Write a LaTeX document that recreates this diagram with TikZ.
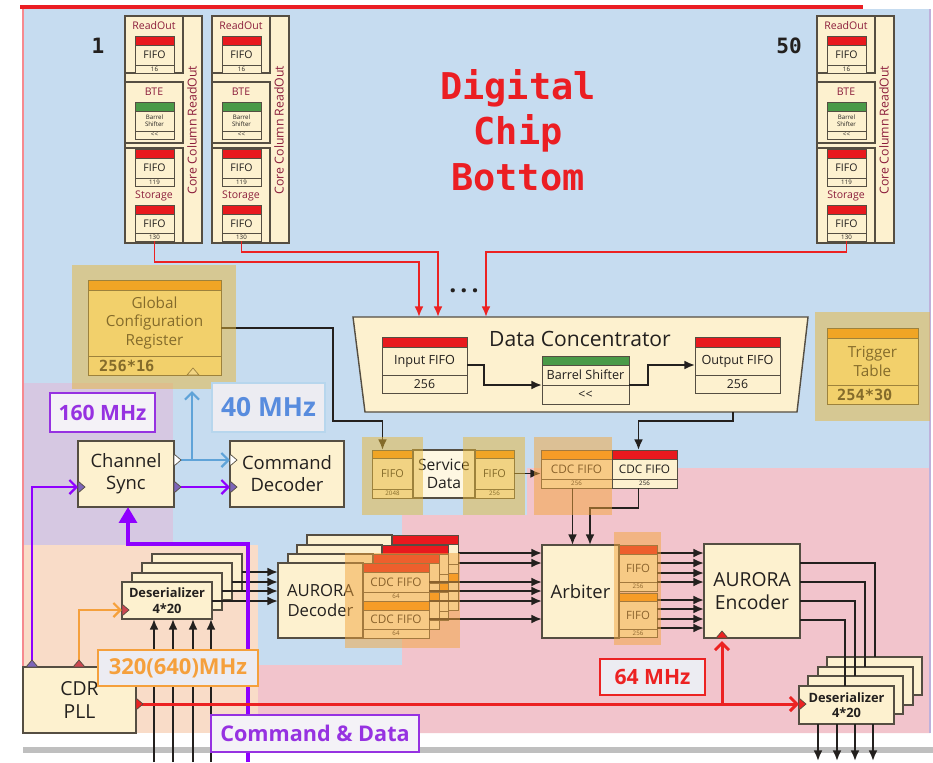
\documentclass[tikz,border=0pt]{standalone}
\usepackage{fontspec}
\setmainfont{Open Sans}
\newfontfamily\codefont{DejaVu Sans Mono}
\usetikzlibrary{arrows.meta, positioning, calc}

\definecolor{BgBlue}{RGB}{198,220,240}
\definecolor{BgPink}{RGB}{242,196,204}
\definecolor{BgPurple}{RGB}{214,200,226}
\definecolor{BgPeach}{RGB}{249,220,200}
\definecolor{Cream}{RGB}{253,241,207}
\definecolor{GcrFill}{RGB}{255,236,160}
\definecolor{Edge}{RGB}{85,78,66}
\definecolor{Ink}{RGB}{35,32,30}
\definecolor{BarRed}{RGB}{232,25,30}
\definecolor{BarGreen}{RGB}{74,154,72}
\definecolor{BarOrange}{RGB}{252,148,18}
\definecolor{Maroon}{RGB}{140,30,60}
\definecolor{ClkPurple}{RGB}{143,0,255}
\definecolor{TagPurple}{RGB}{150,50,225}
\definecolor{TriPurple}{RGB}{125,100,185}
\definecolor{ClkBlue}{RGB}{95,163,216}
\definecolor{TagBlue}{RGB}{88,140,222}
\definecolor{ClkOrange}{RGB}{245,160,60}
\definecolor{ClkRed}{RGB}{236,34,34}
\definecolor{TriRed}{RGB}{205,70,80}
\definecolor{HiYellow}{RGB}{230,182,56}
\definecolor{HiOrange}{RGB}{242,165,60}
\definecolor{TagFill}{RGB}{236,236,242}
\definecolor{TitleRed}{RGB}{235,30,35}

\newcommand{\barh}{9}
\newcommand{\subh}{8}
% colour bar + cell + size cell
\newcommand{\fifo}[9]{%
  \node[cell,fill=#5,wd=#4,ht=\barh,anchor=north west] (#1-bar) at (#2,#3) {};
  \node[cell,fill=#6,wd=#4,ht=#7,anchor=north,fifotxt] (#1-main) at (#1-bar.south) {#8};
  \node[cell,fill=#6,wd=#4,ht=\subh,anchor=north,fifosub] (#1-sub) at (#1-main.south) {#9};}
% clock marks
\newcommand{\clkR}[3]{\filldraw[fill=#3,draw=Edge,line width=0.4pt] (#1,#2) ++(0,-6) -- ++(7,6) -- ++(-7,6) -- cycle;}
\newcommand{\clkU}[3]{\filldraw[fill=#3,draw=Edge,line width=0.4pt] (#1,#2) ++(-6,0) -- ++(6,-7) -- ++(6,7) -- cycle;}

\begin{document}
\begin{tikzpicture}[x=0.02cm, y=-0.02cm,
    wd/.style={minimum width=#1*0.02cm},
    ht/.style={minimum height=#1*0.02cm},
    cell/.style={draw=Edge, line width=0.5pt, inner sep=0pt, outer sep=0pt,
                 align=center, text=Ink},
    blk/.style={cell, fill=Cream, line width=0.7pt, anchor=north west},
    fifotxt/.style={font=\fontsize{6}{6.5}\selectfont},
    fifosub/.style={font=\fontsize{3.5}{4}\selectfont},
    lbl/.style={font=\fontsize{6}{7}\selectfont, text=Maroon},
    big/.style={font=\fontsize{10.5}{12.5}\selectfont},
    des/.style={font=\bfseries\fontsize{7.3}{8.8}\selectfont},
    code/.style={font=\codefont\bfseries\fontsize{8.7}{10}\selectfont, text=Ink},
    arr/.style={-{Latex[length=6pt,width=5pt]}, line width=1.1pt, draw=Ink},
    wire/.style={line width=1.1pt, draw=Ink},
    redarr/.style={-{Latex[length=6pt,width=5pt]}, line width=1.1pt, draw=ClkRed},
    clkarr/.style={-{Straight Barb[length=4pt,width=8pt]}, line width=1.3pt, draw=#1},
    purbig/.style={-{Triangle[length=9pt,width=10pt]}, line width=2.3pt, draw=ClkPurple},
    tag/.style={draw=#1, text=#1, line width=0.8pt, fill=TagFill, inner sep=0pt},
    hilite/.style={fill=#1, fill opacity=0.5}
  ]
  \useasboundingbox (0,0) rectangle (933,762);
  % background areas
  \fill[white] (0,0) rectangle (933,762);
  \fill[BgBlue] (23,9) rectangle (930,733);
  \fill[BgPurple] (23,383) rectangle (173,545);
  \fill[BgPeach] (23,545) rectangle (258,733);
  \fill[BgPink] (527,468) -- (930,468) -- (930,733) -- (258,733) -- (258,665)
    -- (402,665) -- (402,515) -- (527,515) -- cycle;
  \draw[BgPink!70!red, line width=0.6pt] (23,9) -- (23,733);
  \draw[TriPurple!50, line width=0.6pt] (930,9) -- (930,733);
  \fill[black!25] (23,747) rectangle (933,753);
  \draw[TitleRed, line width=2pt] (20,7) -- (863,7);

  \node[font=\codefont\bfseries\fontsize{21}{26}\selectfont, text=TitleRed,
        align=center] (title) at (518,130) {Digital\\Chip\\Bottom};
  \node[font=\codefont\bfseries\fontsize{12}{14}\selectfont, text=Ink] (num1) at (98,46) {1};
  \node[font=\codefont\bfseries\fontsize{12}{14}\selectfont, text=Ink] (num50) at (789,46) {50};

  % core column readout
  \foreach \cx/\cn in {125/a,212/b,817/c}{
    \node[blk,wd=77,ht=227] (\cn-col) at (\cx,16) {};
    \node[blk,wd=58,ht=57] (\cn-ro) at (\cx,16) {};
    \node[blk,wd=58,ht=61] (\cn-bt) at (\cx,82) {};
    \node[blk,wd=58,ht=95] (\cn-sg) at (\cx,148) {};
    \node[lbl] (\cn-rol) at (\cx+29,26) {ReadOut};
    \node[lbl] (\cn-btl) at (\cx+29,92) {BTE};
    \node[lbl] (\cn-sgl) at (\cx+29,196) {Storage};
    \node[lbl,rotate=90,font=\fontsize{7}{8}\selectfont] (\cn-cap) at (\cx+67,130) {Core Column ReadOut};
    \fifo{\cn-f1}{\cx+10}{36}{39}{BarRed}{Cream}{20}{FIFO}{16}
    \begin{scope}[fifotxt/.style={font=\fontsize{3.5}{4}\selectfont}]
      \fifo{\cn-f2}{\cx+10}{102}{39}{BarGreen}{Cream}{20}{Barrel\\Shifter}{<{}<}
    \end{scope}
    \fifo{\cn-f3}{\cx+10}{149}{39}{BarRed}{Cream}{20}{FIFO}{119}
    \fifo{\cn-f4}{\cx+10}{205}{39}{BarRed}{Cream}{19}{FIFO}{130}
  }

  % data concentrator
  \draw[fill=Cream, draw=Edge, line width=0.8pt]
    (353,317) -- (808,317) -- (797,412) -- (365,412) -- cycle;
  \node[font=\fontsize{12}{14}\selectfont, text=Ink] (dc) at (580,339) {Data Concentrator};
  \begin{scope}[fifotxt/.style={font=\fontsize{7.2}{8}\selectfont},
                fifosub/.style={font=\fontsize{7}{8}\selectfont}]
    \renewcommand{\barh}{10}\renewcommand{\subh}{18}
    \fifo{inf}{382}{337}{85}{BarRed}{Cream}{28}{Input FIFO}{256}
    \fifo{outf}{695}{337}{85}{BarRed}{Cream}{28}{Output FIFO}{256}
    \renewcommand{\barh}{9}\renewcommand{\subh}{19}
    \fifo{bs}{542}{356}{87}{BarGreen}{Cream}{20}{Barrel Shifter}{<{}<}
  \end{scope}

  % configuration and trigger tables
  \begin{scope}[fifotxt/.style={font=\fontsize{8.7}{10.5}\selectfont}]
    \renewcommand{\barh}{10}\renewcommand{\subh}{19}
    \fifo{gcr}{88}{280}{133}{BarOrange}{GcrFill}{66}{Global\\Configuration\\Register}{}
    \fifo{trg}{827}{328}{91}{BarOrange}{GcrFill}{47}{Trigger\\Table}{}
  \end{scope}
  \node[code, anchor=west] (gcr-size) at ($(gcr-sub.west)+(5,0)$) {256*16};
  \node[code, anchor=west] (trg-size) at ($(trg-sub.west)+(4,0)$) {254*30};

  % service data and CDC FIFOs
  \begin{scope}[fifotxt/.style={font=\fontsize{6.2}{7}\selectfont}]
    \renewcommand{\barh}{8}\renewcommand{\subh}{9}
    \fifo{sdl}{372}{450}{41}{BarOrange}{Cream}{31}{FIFO}{2048}
    \fifo{sdr}{475}{450}{39}{BarOrange}{Cream}{31}{FIFO}{256}
  \end{scope}
  \node[blk,wd=62,ht=48,font=\fontsize{8.9}{10.5}\selectfont,fill=Cream!60!white] (sd) at (413,450) {Service\\Data};
  \begin{scope}[fifotxt/.style={font=\fontsize{6.7}{7.5}\selectfont}]
    \renewcommand{\barh}{9}\renewcommand{\subh}{9}
    \fifo{cdcl}{541}{450}{71}{BarOrange}{Cream}{20}{CDC FIFO}{256}
    \fifo{cdcr}{612}{450}{65}{BarRed}{Cream}{20}{CDC FIFO}{256}
  \end{scope}

  % arbiter and encoder
  \node[blk,wd=77,ht=93,big] (arb) at (542,545) {Arbiter};
  \begin{scope}[fifotxt/.style={font=\fontsize{6.5}{7.5}\selectfont}]
    \renewcommand{\barh}{9}\renewcommand{\subh}{9}
    \fifo{af1}{619}{545}{38}{BarRed}{Cream}{28}{FIFO}{256}
    \renewcommand{\barh}{8}\renewcommand{\subh}{8}
    \fifo{af2}{619}{593}{38}{BarOrange}{Cream}{28}{FIFO}{256}
  \end{scope}
  \node[blk,wd=96,ht=94,font=\fontsize{11}{13}\selectfont] (enc) at (704,544) {AURORA\\Encoder};
  \foreach \i/\dx/\dy in {0/827/657,1/818/667,2/808/676}
    \node[blk,wd=95,ht=38] (odes\i) at (\dx,\dy) {};
  \node[blk,wd=95,ht=38,des] (odes3) at (799,686) {Deserializer\\4*20};

  % input side
  \node[blk,wd=113,ht=66,font=\fontsize{11}{13}\selectfont] (cdr) at (23,667) {CDR\\PLL};
  \foreach \i/\dx/\dy in {0/152/554,1/142/563,2/132/573}
    \node[blk,wd=90,ht=37] (ides\i) at (\dx,\dy) {};
  \node[blk,wd=90,ht=37,des] (ides3) at (122,582) {Deserializer\\4*20};
  \begin{scope}[fifotxt/.style={font=\fontsize{6.7}{7.5}\selectfont}]
    \renewcommand{\barh}{9}\renewcommand{\subh}{9}
    \foreach \i/\dx/\dy in {0/307/535,1/297/545,2/288/554}{
      \node[blk,wd=85,ht=75] (dec\i) at (\dx,\dy) {};
      \fifo{dqa\i}{\dx+85}{\dy}{66}{BarRed}{Cream}{20}{}{}
      \fifo{dqb\i}{\dx+85}{\dy+38}{66}{BarOrange}{Cream}{19}{}{}
    }
    \node[blk,wd=85,ht=75,font=\fontsize{9.5}{11.5}\selectfont] (dec3) at (278,563) {AURORA\\Decoder};
    \fifo{dqa3}{363}{563}{66}{BarRed}{Cream}{20}{CDC FIFO}{64}
    \fifo{dqb3}{363}{601}{66}{BarOrange}{Cream}{19}{CDC FIFO}{64}
  \end{scope}
  \node[blk,wd=96,ht=66,big] (cs) at (78,441) {Channel\\Sync};
  \node[blk,wd=114,ht=66,big] (cmd) at (230,441) {Command\\Decoder};

  % data paths
  \coordinate (dcin1) at (419,317);
  \coordinate (dcin2) at (438,317);
  \coordinate (dcin3) at (486,317);
  \draw[redarr] (a-f4-sub.south) -- ++(0,21) -| (dcin1);
  \draw[redarr] (b-f4-sub.south) -- ++(0,11) -| (dcin2);
  \draw[redarr] (c-f4-sub.south) -- ++(0,11) -| (dcin3);
  \node[font=\bfseries\fontsize{14}{14}\selectfont, text=Ink] (dots) at (464,291) {.\,.\,.};
  \draw[arr] ($(inf-main.east)+(0,4)$) -- ++(17,0) |- (bs-main.south west);
  \draw[arr] (bs-main.south east) -- ++(19,0) |- ($(outf-main.west)+(0,4)$);
  \coordinate (dcout) at (733,412);
  \draw[arr] (dcout) -- ++(0,9) -| ($(cdcr-bar.north)+(-6,0)$);
  \draw[arr] ($(gcr-main.east)+(0,5)$) -| (333,421) -| ($(sdl-bar.north)+(-10,0)$);
  \draw[arr] (sdr-main.east) -- (sdr-main.east -| cdcl-main.west);
  \coordinate (arbin1) at (572.5,545);
  \coordinate (arbin2) at (590,545);
  \draw[arr] ($(cdcl-sub.south)+(-4,0)$) -- (arbin1);
  \draw[arr] ($(cdcr-sub.south)+(-6,0)$) |- (590,508) -- (arbin2);
  \foreach \y in {553,563,573,582,600,609,619,628}
    \draw[arr] (af1-main.east |- 0,\y) -- (enc.west |- 0,\y);
  \foreach \y/\x/\i in {563/875/0,582/865/1,601/855/2,620/845/3}
    \draw[wire] (enc.east |- 0,\y) -| (\x,0 |- odes\i.north);
  \foreach \x in {818,837,855,873}{
    \coordinate (dout\x) at (\x,761);
    \draw[arr] (\x,0 |- odes3.south) -- (dout\x);
  }
  \foreach \x in {154,173,193,211}{
    \coordinate (din\x) at (\x,762);
    \draw[arr] (din\x) -- (\x,0 |- ides3.south);
  }
  \foreach \y/\i in {572/0,582/1,591/2,601/3}
    \draw[arr] (ides\i.east |- 0,\y) -- (dec3.west |- 0,\y);
  \foreach \y/\n in {553/dqa0,563/dqa0,582/dqa3,591/dqa3,601/dqa3,619/dqb3}
    \draw[arr] (\n-main.east |- 0,\y) -- (arb.west |- 0,\y);

  % clocks
  \coordinate (gcrclk) at (192,391);
  \coordinate (cdin) at (248,762);
  \coordinate (encclk) at (722,641);
  \draw[purbig] (cdin) |- (128,544) -- (cs.south -| 128,0);
  \draw[clkarr=ClkBlue] (181,460) -- (cmd.west |- 0,460);
  \draw[clkarr=ClkBlue] (192,460) -- (gcrclk);
  \draw[clkarr=ClkPurple] (181,487) -- (cmd.west |- 0,487);
  \draw[clkarr=ClkPurple] (cdr.north -| 32,0) |- (cs.west |- 0,487);
  \draw[clkarr=ClkOrange] (cdr.north -| 79,0) |- (ides3.west |- 0,610);
  \draw[clkarr=ClkRed, line width=1.7pt] (cdr.east |- 0,704) -- (odes3.west |- 0,704);
  \draw[clkarr=ClkRed, line width=1.7pt] (722,704) -- (encclk);
  \clkU{193}{375}{GcrFill!50!white}
  \clkR{174}{460}{white}
  \clkR{174}{487}{TriPurple}
  \clkR{78}{487}{TriPurple}
  \clkR{230}{460}{white}
  \clkR{230}{487}{TriPurple}
  \clkU{32}{667}{TriPurple}
  \clkU{79}{667}{TriRed}
  \clkR{136}{704}{ClkRed}
  \clkR{122}{610}{TriRed}
  \clkU{722}{638}{ClkRed}
  \clkR{799}{704}{ClkRed}

  % highlights
  \fill[hilite=HiYellow] (72,265) rectangle (236,389);
  \fill[hilite=HiYellow] (815,312) rectangle (930,421);
  \fill[hilite=HiYellow] (362,437) rectangle (423,515);
  \fill[hilite=HiYellow] (463,437) rectangle (525,515);
  \fill[hilite=HiOrange] (534,437) rectangle (612,515);
  \fill[hilite=HiOrange] (614,532) rectangle (661,645);
  \fill[hilite=HiOrange] (345,553) rectangle (460,648);

  % clock tags
  \node[tag=TagPurple, wd=105, ht=39, fill=TagFill!60!BgPurple!40!white,
        font=\bfseries\fontsize{12}{14}\selectfont] (t160) at (102.5,412.5) {160 MHz};
  \node[tag=TagBlue, draw=ClkBlue!45, wd=113, ht=49,
        font=\bfseries\fontsize{15}{17}\selectfont] (t40) at (268.5,407.5) {40 MHz};
  \node[tag=ClkOrange, wd=160, ht=36,
        font=\bfseries\fontsize{12.5}{14}\selectfont] (t320) at (178,668) {320(640)MHz};
  \node[tag=ClkRed, wd=105, ht=36,
        font=\bfseries\fontsize{12}{14}\selectfont] (t64) at (652.5,677) {64 MHz};
  \node[tag=TagPurple, wd=208, ht=37, fill=TagFill!60!BgPurple!40!white,
        font=\bfseries\fontsize{12.3}{14}\selectfont] (tcd) at (315,733.5) {Command \& Data};
\end{tikzpicture}
\end{document}
